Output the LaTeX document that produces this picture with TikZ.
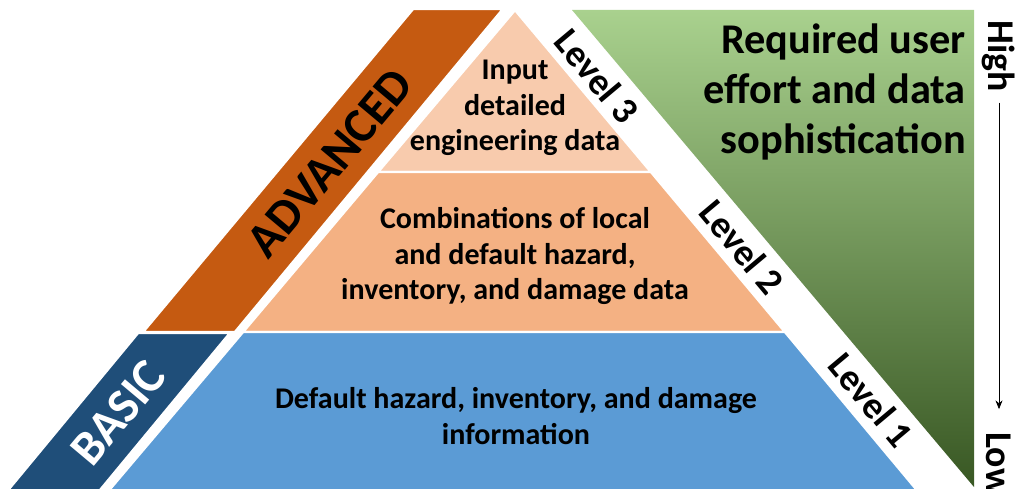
\documentclass[tikz,border=0pt]{standalone}
\usepackage{fontspec}
\setmainfont{Carlito}
\usetikzlibrary{arrows.meta}
\definecolor{advorange}{HTML}{C55A11}
\definecolor{tierthreefill}{HTML}{F8CBAD}
\definecolor{tiertwofill}{HTML}{F4B183}
\definecolor{tieronefill}{HTML}{5B9BD5}
\definecolor{basicblue}{HTML}{1F4E79}
\definecolor{efforttop}{HTML}{A9D18E}
\definecolor{effortbot}{HTML}{385723}
\begin{document}
\begin{tikzpicture}[x=0.02cm,y=-0.02cm,
  tier/.style={draw=white, line width=1.4pt},
  tiertext/.style={align=center, font=\bfseries\fontsize{17.1}{20.1}\selectfont},
  bandtext/.style={rotate=50, font=\bfseries\fontsize{27.8}{30}\selectfont},
  leveltext/.style={rotate=-50, font=\bfseries\fontsize{21.5}{24}\selectfont},
  scaletext/.style={rotate=-90, inner sep=0pt, font=\bfseries\fontsize{21.5}{24}\selectfont}]
\useasboundingbox (0,0) rectangle (1017,489);
\filldraw[tier, fill=advorange] (413,9) -- (503,9) -- (235,332) -- (143,332) -- cycle;
\filldraw[tier, fill=basicblue] (138,333) -- (230,333) -- (96,495) -- (4,495) -- cycle;
\filldraw[tier, fill=tierthreefill] (515,10) -- (651,172) -- (378,172) -- cycle;
\filldraw[tier, fill=tiertwofill] (378,172) -- (651,172) -- (785,332) -- (243,332) -- cycle;
\filldraw[tier, fill=tieronefill] (243,332) -- (785,332) -- (921,495) -- (105,495) -- cycle;
\shade[top color=efforttop, bottom color=effortbot] (572,10) -- (974,10) -- (974,487) -- cycle;
\node[tiertext] (tierthree) at (515,108) {Input\\detailed\\engineering data};
\node[tiertext] (tiertwo) at (515,256) {Combinations of local\\and default hazard,\\inventory, and damage data};
\node[tiertext] (tierone) at (516,416) {Default hazard, inventory, and damage\\information};
\node[bandtext] (advanced) at (330,163) {ADVANCED};
\node[bandtext, white] (basic) at (118,413) {BASIC};
\node[leveltext] (levelthree) at (597,76) {Level 3};
\node[leveltext] (leveltwo) at (742,247) {Level 2};
\node[leveltext] (levelone) at (871,400) {Level 1};
\node[align=right, anchor=east, inner sep=0pt, font=\bfseries\fontsize{24.1}{28.3}\selectfont] (effort) at (966,92) {Required user\\effort and data\\sophistication};
\node[scaletext, anchor=west] (high) at (999,20) {High};
\node[scaletext, anchor=west] (low) at (999,432) {Low};
\draw[-{Stealth[length=5pt, width=4pt]}, shorten <=6pt, shorten >=13pt] (high.east) -- (low.west);
\end{tikzpicture}
\end{document}
